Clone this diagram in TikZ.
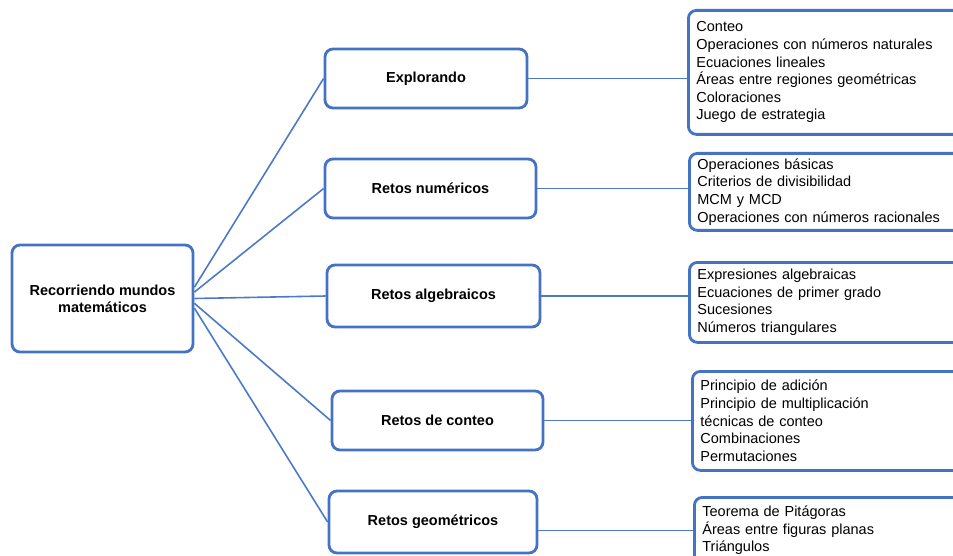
\documentclass[tikz,border=0pt]{standalone}
\usepackage{fontspec}
\setmainfont{Liberation Sans}
\definecolor{boxblue}{RGB}{68,114,196}
\definecolor{lineblue}{RGB}{76,122,200}
\tikzset{
  box/.style={draw=boxblue, line width=2.8pt, rounded corners=8pt, fill=white, inner sep=0pt},
  midbox/.style={box, font=\fontsize{14.5}{17}\selectfont\bfseries, align=center},
  listbox/.style={box, anchor=north west, font=\fontsize{14.5}{17.6}\selectfont, align=left,
    inner xsep=8pt, inner ysep=0pt, text width=257pt, minimum width=273pt},
  conn/.style={draw=lineblue, line width=1.6pt}
}
\begin{document}
\begin{tikzpicture}[x=1pt,y=-1pt]
\useasboundingbox (0,0) rectangle (953,556);

% root
\node[midbox, minimum width=181pt, minimum height=107pt] (root) at (102.5,298.5)
  {Recorriendo mundos\\matemáticos};

% middle level
\node[midbox, minimum width=202pt, minimum height=59pt] (expl) at (426,78.5) {Explorando};
\node[midbox, minimum width=211pt, minimum height=59pt] (num) at (430.5,188.5) {Retos numéricos};
\node[midbox, minimum width=213pt, minimum height=62pt] (alg) at (433.5,296) {Retos algebraicos};
\node[midbox, minimum width=211pt, minimum height=59pt] (con) at (437.5,420.5) {Retos de conteo};
\node[midbox, minimum width=208pt, minimum height=62pt] (geo) at (433,522) {Retos geométricos};

% right lists
\node[listbox, minimum height=124pt] (b1) at (687,9)
  {Conteo\\Operaciones con números naturales\\Ecuaciones lineales\\Áreas entre regiones geométricas\\Coloraciones\\Juego de estrategia};
\node[listbox, minimum height=77pt] (b2) at (688,152)
  {Operaciones básicas\\Criterios de divisibilidad\\MCM y MCD\\Operaciones con números racionales};
\node[listbox, minimum height=80pt] (b3) at (688,261)
  {Expresiones algebraicas\\Ecuaciones de primer grado\\Sucesiones\\Números triangulares};
\node[listbox, minimum height=99pt] (b4) at (691,370)
  {Principio de adición\\Principio de multiplicación\\técnicas de conteo\\Combinaciones\\Permutaciones};
\node[listbox, minimum height=66pt] (b5) at (693,496)
  {Teorema de Pitágoras\\Áreas entre figuras planas\\Triángulos};

% connectors root -> middle
\draw[conn] (root.7) -- (expl.west);
\draw[conn] (root.4) -- (num.west);
\draw[conn] (root.east) -- (alg.west);
\draw[conn] (root.-3) -- (con.west);
\draw[conn] (root.-6) -- (geo.west);

% connectors middle -> lists
\draw[conn] (expl.east) -- (expl.east -| b1.west);
\draw[conn] (num.east) -- (num.east -| b2.west);
\draw[conn] (alg.east) -- (alg.east -| b3.west);
\draw[conn] (con.east) -- (con.east -| b4.west);
\draw[conn] (b5.west -| geo.east) -- (b5.west);
\end{tikzpicture}
\end{document}
